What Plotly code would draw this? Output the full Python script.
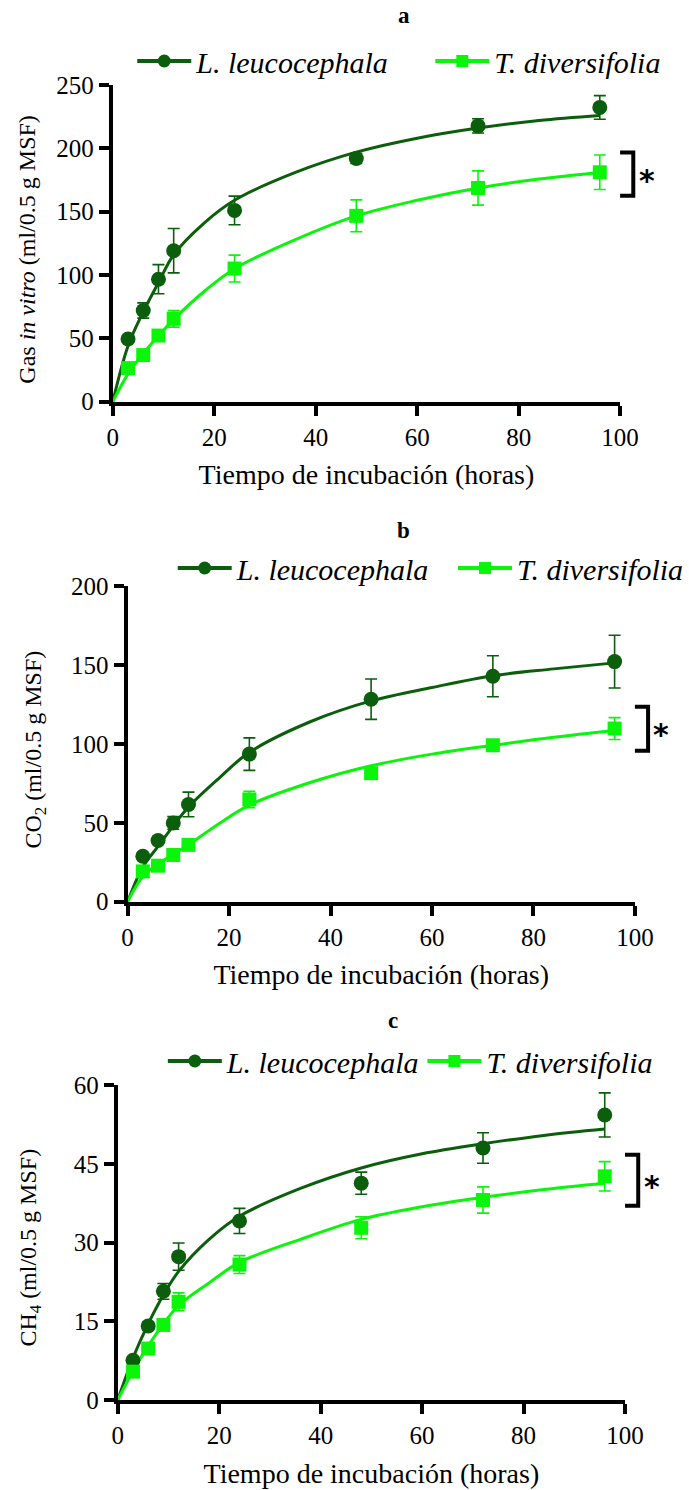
import plotly.graph_objects as go

# ---------------- data ----------------
hours = [3, 6, 9, 12, 24, 48, 72, 96]
fit_hours = [0, 3, 6, 9, 12, 18, 24, 36, 48, 60, 72, 84, 96]

series_names = ["L. leucocephala", "T. diversifolia"]

# panel a: gas in vitro
gas_leu = [49.5, 72, 96.7, 119.2, 151, 192, 217.7, 232.3]
gas_leu_err = [2.5, 6, 11.5, 17.5, 11.3, 4, 5.6, 9.3]
gas_div = [26.5, 36.8, 52.2, 65.4, 105.1, 146.7, 168.7, 181.1]
gas_div_err = [2, 2, 3, 6.5, 10.6, 12.6, 13.5, 13.6]
gas_leu_fit = [0, 44, 71, 94, 116, 141, 159, 181, 197, 208, 216, 222, 226]
gas_div_fit = [0, 22, 38, 52, 65, 87, 105, 128, 146.7, 159, 168.7, 175.8, 181]

# panel b: CO2
co2_leu = [28.8, 38.8, 49.9, 61.6, 93.5, 128.3, 142.8, 152.1]
co2_leu_err = [2, 2, 4, 7.8, 10.3, 12.8, 13, 16.7]
co2_div = [19.2, 22.8, 29.6, 36, 64.8, 81.4, 99.1, 109.7]
co2_div_err = [2, 2, 2, 2, 5.2, 2, 2, 6.9]
co2_leu_fit = [0, 22, 35, 48, 60, 78.2, 94.6, 114, 127.2, 135.7, 143.2, 147.5, 151.3]
co2_div_fit = [0, 16, 24, 30, 36, 49.4, 61.2, 75.5, 86.1, 93.5, 99.1, 104.2, 108.5]

# panel c: CH4
ch4_leu = [7.55, 14.1, 20.7, 27.3, 34.1, 41.3, 48, 54.3]
ch4_leu_err = [0.5, 0.8, 1.5, 2.6, 2.4, 2.1, 2.9, 4.2]
ch4_div = [5.4, 9.8, 14.3, 18.7, 25.8, 32.8, 38.1, 42.6]
ch4_div_err = [0.5, 0.6, 0.8, 1.7, 1.7, 2.1, 2.5, 2.8]
ch4_leu_fit = [0, 8, 14.5, 20, 24.5, 30.6, 35, 40.3, 44.2, 46.9, 48.8, 50.4, 51.6]
ch4_div_fit = [0, 5.5, 10.3, 14.5, 18, 22.3, 26.2, 30.6, 34.4, 36.8, 38.6, 40.1, 41.3]

panel_letters = ["a", "b", "c"]
y_titles = ["Gas <i>in vitro</i> (ml/0.5 g MSF)",
            "CO<sub>2</sub> (ml/0.5 g MSF)",
            "CH<sub>4</sub> (ml/0.5 g MSF)"]
x_title = "Tiempo de incubación (horas)"
y_max = [250, 200, 60]
y_dtick = [50, 50, 15]
x_tick_vals = [0, 20, 40, 60, 80, 100]
# significance bracket spans (data units)
brackets = [(162.6, 196.8), (95.7, 123.5), (37.0, 46.7)]

# ---------------- style ----------------
W, H = 689, 1490
DARK = "#0B5E0B"
LIME = "#0AF50A"
FONT = "Liberation Serif"

# plot areas in pixels: (x0, x1, y_bottom, y_top)
areas = [(114.3, 628.3, 401.7, 85.0),
         (129.3, 643.3, 901.7, 586.0),
         (119.3, 633.3, 1400.0, 1085.0)]
# legend item positions (px): (x of L entry, x of T entry, y)
legend_pos = [(134, 436, 61), (175, 459, 568), (165, 428, 1061)]
title_pos = [(409, 15), (409, 530), (398, 1020)]
ytitle_pos = [(27, 250), (35, 750), (30, 1248)]

panels = [
    (gas_leu, gas_leu_err, gas_div, gas_div_err, gas_leu_fit, gas_div_fit),
    (co2_leu, co2_leu_err, co2_div, co2_div_err, co2_leu_fit, co2_div_fit),
    (ch4_leu, ch4_leu_err, ch4_div, ch4_div_err, ch4_leu_fit, ch4_div_fit),
]

fig = go.Figure()
layout = dict(
    width=W, height=H, margin=dict(l=0, r=0, t=0, b=0),
    plot_bgcolor="white", paper_bgcolor="white",
    font=dict(family=FONT, color="black"),
    showlegend=True, shapes=[], annotations=[],
)

for i, (leu, leu_e, div, div_e, leu_f, div_f) in enumerate(panels):
    sfx = "" if i == 0 else str(i + 1)
    xa, ya = "x" + sfx, "y" + sfx
    lg_l = "legend" + ("" if i == 0 else str(2 * i + 1))
    lg_t = "legend" + str(2 * i + 2)
    x0, x1, yb, yt = areas[i]

    # fitted curves
    fig.add_trace(go.Scatter(x=fit_hours, y=leu_f, mode="lines", line=dict(color=DARK, width=3, shape="spline"),
                             xaxis=xa, yaxis=ya, showlegend=False, hoverinfo="skip"))
    fig.add_trace(go.Scatter(x=fit_hours, y=div_f, mode="lines", line=dict(color=LIME, width=3, shape="spline"),
                             xaxis=xa, yaxis=ya, showlegend=False, hoverinfo="skip"))
    # data points with error bars
    fig.add_trace(go.Scatter(x=hours, y=leu, mode="markers",
                             marker=dict(symbol="circle", size=15, color=DARK),
                             error_y=dict(type="data", array=leu_e, color=DARK, thickness=1.6, width=6),
                             xaxis=xa, yaxis=ya, showlegend=False, cliponaxis=False))
    fig.add_trace(go.Scatter(x=hours, y=div, mode="markers",
                             marker=dict(symbol="square", size=14, color=LIME),
                             error_y=dict(type="data", array=div_e, color=LIME, thickness=1.6, width=6),
                             xaxis=xa, yaxis=ya, showlegend=False, cliponaxis=False))
    # legend entries
    fig.add_trace(go.Scatter(x=[None], y=[None], mode="lines+markers", name=series_names[0],
                             line=dict(color=DARK, width=4), marker=dict(symbol="circle", size=13, color=DARK),
                             xaxis=xa, yaxis=ya, legend=lg_l))
    fig.add_trace(go.Scatter(x=[None], y=[None], mode="lines+markers", name=series_names[1],
                             line=dict(color=LIME, width=4), marker=dict(symbol="square", size=12, color=LIME),
                             xaxis=xa, yaxis=ya, legend=lg_t))

    axis_common = dict(showline=True, linewidth=4, linecolor="black", ticks="outside",
                       ticklen=10, tickwidth=4, tickcolor="black", showgrid=False, zeroline=False,
                       tickfont=dict(family=FONT, size=25, color="black"), automargin=False)
    layout["xaxis" + sfx] = dict(domain=[x0 / W, x1 / W], anchor=ya, range=[0, 100],
                                 tickvals=x_tick_vals,
                                 title=dict(text=x_title, font=dict(family=FONT, size=28), standoff=16),
                                 **axis_common)
    layout["yaxis" + sfx] = dict(domain=[1 - yb / H, 1 - yt / H], anchor=xa, range=[0, y_max[i]],
                                 dtick=y_dtick[i], tick0=0, **axis_common)
    # y-axis title
    yx, yy = ytitle_pos[i]
    layout["annotations"].append(dict(text=y_titles[i], x=yx / W, y=1 - yy / H, xref="paper", yref="paper",
                                      textangle=-90, showarrow=False, xanchor="center", yanchor="middle",
                                      font=dict(family=FONT, size=24, color="black")))
    lxl, lxt, ly = legend_pos[i]
    for lg, lx in ((lg_l, lxl), (lg_t, lxt)):
        layout[lg] = dict(orientation="h", x=lx / W, y=1 - ly / H, xanchor="left", yanchor="middle",
                          font=dict(family=FONT, size=30, style="italic", color="black"),
                          bgcolor="rgba(0,0,0,0)", itemwidth=54,
                          itemclick=False, itemdoubleclick=False)

    # panel letter
    tx, ty = title_pos[i]
    layout["annotations"].append(dict(text="<b>" + panel_letters[i] + "</b>", x=tx / W, y=1 - ty / H,
                                      xref="paper", yref="paper", showarrow=False,
                                      xanchor="center", yanchor="middle",
                                      font=dict(family=FONT, size=23, color="black")))
    # significance bracket
    b0, b1 = brackets[i]
    f0, f1 = b0 / y_max[i], b1 / y_max[i]
    layout["shapes"].append(dict(type="path", xref=xa + " domain", yref=ya + " domain",
                                 path=f"M 1.0,{f1} L 1.026,{f1} L 1.026,{f0} L 1.0,{f0}",
                                 line=dict(color="black", width=4)))
    layout["annotations"].append(dict(text="<b>*</b>", x=1.072, y=(b0 + b1) / 2, xref=xa + " domain", yref=ya,
                                      showarrow=False, font=dict(family="DejaVu Sans", size=30, color="black"),
                                      yshift=-6))

fig.update_layout(**layout)
fig.write_html("out.html", config={"displayModeBar": False},
               post_script="document.body.style.margin='0';document.body.style.overflow='hidden';")
